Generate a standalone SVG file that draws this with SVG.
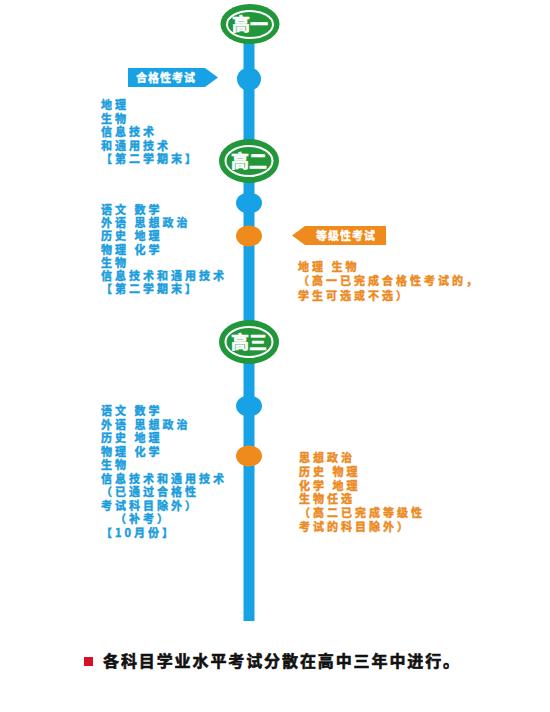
<svg xmlns="http://www.w3.org/2000/svg" width="550" height="712" viewBox="0 0 550 712">
<style>
.t{font-family:"Noto Sans CJK SC","Noto Sans",sans-serif;font-weight:700;font-size:11px;letter-spacing:3px;stroke-width:0.45}
.b{fill:#1a9ddc;stroke:#1a9ddc}
.o{fill:#ec8a22;stroke:#ec8a22}
.gc{fill:#21963a}
.ring{fill:none;stroke:#fff;stroke-width:2}
.gt{font-family:"Noto Sans CJK SC",sans-serif;font-weight:700;font-size:18px;fill:#fff;stroke:#fff;stroke-width:0.6;text-anchor:middle}
.lt{font-family:"Noto Sans CJK SC",sans-serif;font-weight:700;font-size:11px;fill:#fff;stroke:#fff;stroke-width:0.35;text-anchor:middle;letter-spacing:1px}
</style>
<rect width="550" height="712" fill="#fff"/>
<g id="connectors">
<rect x="243.5" y="40" width="11" height="581" fill="#17a2e6"/>
</g>
<g id="g1">
<ellipse cx="250" cy="24" rx="29.5" ry="20" class="gc"/>
<ellipse cx="250" cy="24.5" rx="23" ry="13.5" class="ring"/>
<text x="250" y="30.5" class="gt">高一</text>
</g>
<g id="g2">
<ellipse cx="249" cy="161" rx="30" ry="22" class="gc"/>
<ellipse cx="249" cy="161" rx="23.5" ry="15" class="ring"/>
<text x="249" y="167.5" class="gt">高二</text>
</g>
<g id="g3">
<ellipse cx="249" cy="342" rx="30" ry="22" class="gc"/>
<ellipse cx="249" cy="342" rx="23.5" ry="15" class="ring"/>
<text x="249" y="348.5" class="gt">高三</text>
</g>
<g id="dots">
<ellipse cx="249" cy="79" rx="12" ry="11.5" fill="#17a2e6"/>
<ellipse cx="249" cy="203" rx="13" ry="10.5" fill="#17a2e6"/>
<ellipse cx="249" cy="236" rx="13" ry="10.5" fill="#ef8a1c"/>
<ellipse cx="249" cy="406" rx="13" ry="10.5" fill="#17a2e6"/>
<ellipse cx="249" cy="456" rx="13" ry="10.5" fill="#ef8a1c"/>
</g>
<g id="label1">
<polygon points="128,68 205,68 218,77.5 205,87 128,87" fill="#17a2e6"/>
<text x="166" y="81.5" class="lt">合格性考试</text>
</g>
<g id="label2">
<polygon points="292,235.5 305,226 386,226 386,245 305,245" fill="#ef8a1c"/>
<text x="346" y="239.5" class="lt">等级性考试</text>
</g>
<g id="text1" class="t b">
<text x="101" y="109">地理</text>
<text x="101" y="122.5">生物</text>
<text x="101" y="136">信息技术</text>
<text x="101" y="149.5">和通用技术</text>
<text x="101" y="163">【第二学期末】</text>
</g>
<g id="text2" class="t b">
<text x="101" y="214">语文 数学</text>
<text x="101" y="227.2">外语 思想政治</text>
<text x="101" y="240.4">历史 地理</text>
<text x="101" y="253.6">物理 化学</text>
<text x="101" y="266.8">生物</text>
<text x="101" y="280">信息技术和通用技术</text>
<text x="101" y="293.2">【第二学期末】</text>
</g>
<g id="text3" class="t o">
<text x="298" y="270.5">地理 生物</text>
<text x="298" y="285">（高一已完成合格性考试的，</text>
<text x="298" y="299.5">学生可选或不选）</text>
</g>
<g id="text4" class="t b">
<text x="101" y="415">语文 数学</text>
<text x="101" y="428.5">外语 思想政治</text>
<text x="101" y="442">历史 地理</text>
<text x="101" y="455.5">物理 化学</text>
<text x="101" y="469">生物</text>
<text x="101" y="482.5">信息技术和通用技术</text>
<text x="101" y="496">（已通过合格性</text>
<text x="101" y="509.5">考试科目除外）</text>
<text x="115" y="523">（补考）</text>
<text x="101" y="536.5">【10月份】</text>
</g>
<g id="text5" class="t o">
<text x="299" y="462">思想政治</text>
<text x="299" y="475.8">历史 物理</text>
<text x="299" y="489.6">化学 地理</text>
<text x="299" y="503.4">生物任选</text>
<text x="299" y="517.2">（高二已完成等级性</text>
<text x="299" y="531">考试的科目除外）</text>
</g>
<g id="footer">
<rect x="84" y="657" width="9" height="9" fill="#d7102a"/>
<text x="103" y="667" font-family="Noto Sans CJK SC, sans-serif" font-weight="700" font-size="16" letter-spacing="1.9" fill="#111" stroke="#111" stroke-width="0.6">各科目学业水平考试分散在高中三年中进行。</text>
</g>
</svg>
